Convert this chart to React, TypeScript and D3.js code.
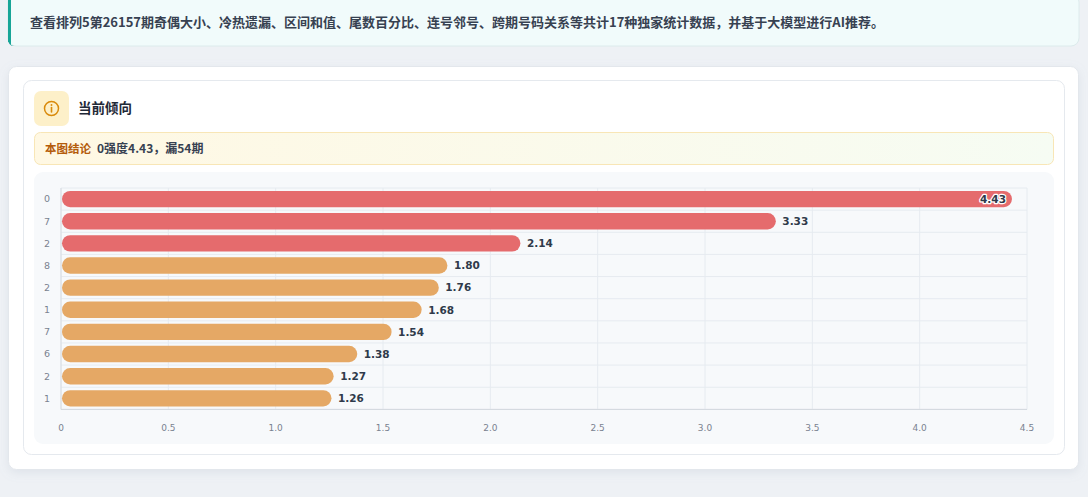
import React from "react";
import * as d3 from "d3";

const categories: string[] = ["0", "7", "2", "8", "2", "1", "7", "6", "2", "1"];
const values: number[] = [4.43, 3.33, 2.14, 1.8, 1.76, 1.68, 1.54, 1.38, 1.27, 1.26];
const xTicks: number[] = [0, 0.5, 1, 1.5, 2, 2.5, 3, 3.5, 4, 4.5];
const bannerText = "查看排列5第26157期奇偶大小、冷热遗漏、区间和值、尾数百分比、连号邻号、跨期号码关系等共计17种独家统计数据，并基于大模型进行AI推荐。";
const titleText = "当前倾向";
const conclusionLabel = "本图结论";
const conclusionText = "0强度4.43，漏54期";

const W = 1088;
const H = 497;
const cjk = '"Noto Sans CJK SC", "Noto Sans", sans-serif';
const numFont = '"DejaVu Sans", sans-serif';

export default function App() {
  const x = d3.scaleLinear().domain([0, 4.5]).range([61, 1027]);
  const idx = d3.range(categories.length);
  const y = d3
    .scaleBand<number>()
    .domain(idx)
    .range([188, 409.4])
    .paddingInner(0.26)
    .paddingOuter(0.13);
  const step = y.step();
  const bh = y.bandwidth();
  const red = "#e56b6d";
  const orange = "#e5a865";
  const grid = "#e6ebf0";

  return (
    <svg
      width={W}
      height={H}
      style={{ position: "absolute", left: 0, top: 0, display: "block" }}
    >
      <defs>
        <filter id="sh" x="-5%" y="-5%" width="110%" height="115%">
          <feDropShadow dx="0" dy="3" stdDeviation="5" floodColor="#94a3b8" floodOpacity="0.18" />
        </filter>
        <linearGradient id="conc" x1="0" x2="1" y1="0" y2="0">
          <stop offset="0" stopColor="#fff8e3" />
          <stop offset="1" stopColor="#f6fcf3" />
        </linearGradient>
      </defs>
      <rect x={0} y={0} width={W} height={H} fill="#eef1f5" />

      {/* banner */}
      <rect x={8} y={-6} width={1071} height={52} rx={8} fill="#f1fbfb" stroke="#dcebec" />
      <path d="M 14 -6 Q 8 -6 8 2 L 8 38 Q 8 46 14 46 L 11 46 L 11 -6 Z" fill="#17a597" />
      <rect x={8} y={-6} width={3} height={48} fill="#17a597" />
      <text x={30} y={27} fontFamily={cjk} fontSize={13} fontWeight={700} fill="#374151">
        {bannerText}
      </text>

      {/* outer card */}
      <rect x={8.5} y={66.5} width={1070} height={403} rx={8} fill="#ffffff" stroke="#e3e7ec" filter="url(#sh)" />
      {/* inner card */}
      <rect x={23.5} y={80.5} width={1041} height={374} rx={8} fill="#ffffff" stroke="#e5e9ee" />

      {/* icon */}
      <rect x={34} y={91} width={35} height={35} rx={7} fill="#fdf0c9" />
      <circle cx={51.5} cy={108.5} r={7} fill="none" stroke="#d98a0b" strokeWidth={1.5} />
      <line x1={51.5} x2={51.5} y1={107.5} y2={112} stroke="#d98a0b" strokeWidth={1.6} strokeLinecap="round" />
      <circle cx={51.5} cy={105} r={0.95} fill="#d98a0b" />
      <text x={78} y={113} fontFamily={cjk} fontSize={13.5} fontWeight={700} fill="#1f2937">
        {titleText}
      </text>

      {/* conclusion */}
      <rect x={34.5} y={132.5} width={1019} height={32} rx={6} fill="url(#conc)" stroke="#f8e6b6" />
      <text x={45} y={153} fontFamily={cjk} fontSize={11.5} fontWeight={700} fill="#b45c0b">
        {conclusionLabel}
      </text>
      <text x={97} y={153} fontFamily={cjk} fontSize={12} fontWeight={700} fill="#374151">
        {conclusionText}
      </text>

      {/* chart area */}
      <rect x={34} y={172} width={1020} height={272} rx={9} fill="#f7f9fb" />

      {/* vertical grid */}
      {xTicks.map((t) => (
        <line key={"vg" + t} x1={x(t)} x2={x(t)} y1={188} y2={409.4} stroke={grid} strokeWidth={1} />
      ))}
      {/* horizontal grid at band boundaries */}
      {d3.range(categories.length + 1).map((i) => {
        const yy = 188 + i * step;
        return <line key={"hg" + i} x1={61} x2={1027} y1={yy} y2={yy} stroke={grid} strokeWidth={1} />;
      })}
      {/* axes lines */}
      <line x1={61} x2={61} y1={188} y2={409.4} stroke="#d7dce2" />
      <line x1={61} x2={1027} y1={409.4} y2={409.4} stroke="#d3d8de" />

      {/* bars */}
      {idx.map((i) => {
        const v = values[i];
        const yy = y(i) as number;
        const x0 = x(0) + 1;
        return (
          <rect
            key={"b" + i}
            x={x0}
            y={yy}
            width={x(v) - x0}
            height={bh}
            rx={bh / 2}
            fill={v >= 2 ? red : orange}
          />
        );
      })}

      {/* value labels */}
      {idx.map((i) => {
        const v = values[i];
        const yy = (y(i) as number) + bh / 2;
        const inside = x(v) + 40 > x(4.5);
        return (
          <text
            key={"l" + i}
            x={inside ? x(v) - 6 : x(v) + 6.5}
            y={yy}
            dy="0.36em"
            textAnchor={inside ? "end" : "start"}
            fontFamily={numFont}
            fontSize={10.5}
            fontWeight={700}
            fill="#2f3a4a"
            stroke="#ffffff"
            strokeWidth={inside ? 2.5 : 0}
            strokeLinejoin="round"
            style={{ paintOrder: "stroke" }}
          >
            {v.toFixed(2)}
          </text>
        );
      })}

      {/* y labels */}
      {idx.map((i) => (
        <text
          key={"yl" + i}
          x={50}
          y={(y(i) as number) + bh / 2}
          dy="0.35em"
          textAnchor="end"
          fontFamily={numFont}
          fontSize={9.5}
          fill="#7a8290"
        >
          {categories[i]}
        </text>
      ))}

      {/* x tick labels */}
      {xTicks.map((t) => (
        <text
          key={"xt" + t}
          x={x(t)}
          y={428}
          dy="0.35em"
          textAnchor="middle"
          fontFamily={numFont}
          fontSize={9}
          fill="#7a8290"
        >
          {t === 0 ? "0" : d3.format(".1f")(t)}
        </text>
      ))}
    </svg>
  );
}
